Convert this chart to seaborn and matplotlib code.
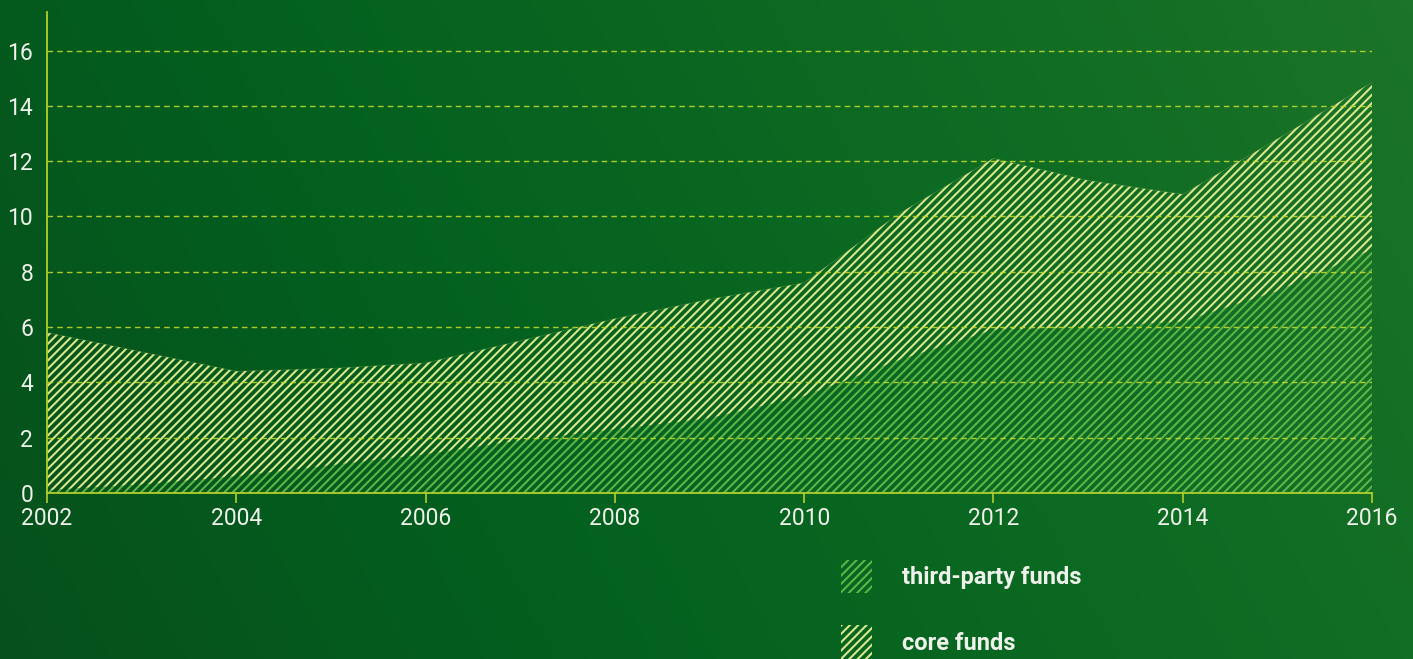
import numpy as np
import pandas as pd
import matplotlib
matplotlib.use("Agg")
import matplotlib.pyplot as plt
from matplotlib.colors import LinearSegmentedColormap
from matplotlib.patches import Patch
import seaborn as sns

years = [2002, 2003, 2004, 2005, 2006, 2007, 2008, 2009, 2010, 2011, 2012, 2013, 2014, 2015, 2016]
third_party = [0.1, 0.3, 0.6, 1.0, 1.4, 1.9, 2.3, 2.7, 3.5, 4.8, 5.9, 6.0, 6.2, 7.3, 8.8]
core = [5.7, 4.8, 3.8, 3.5, 3.3, 3.6, 4.0, 4.3, 4.1, 5.3, 6.2, 5.3, 4.6, 5.5, 6.05]
x_ticks = [2002, 2004, 2006, 2008, 2010, 2012, 2014, 2016]
y_ticks = [0, 2, 4, 6, 8, 10, 12, 14, 16]
series_labels = ["third-party funds", "core funds"]

df = pd.DataFrame({"year": years, "third": third_party, "core": core})
df["total"] = df["third"] + df["core"]

sns.set_style("white")
plt.rcParams["font.family"] = ["Roboto", "DejaVu Sans"]
plt.rcParams["hatch.linewidth"] = 1.5

AXIS_COL = "#b4cf2c"
GRID_COL = "#c3d82a"
CORE_HATCH = "#d9e68a"
THIRD_HATCH = "#5db547"
TEXT_COL = "#eef2ea"
HATCH = "////"

fig = plt.figure(figsize=(14.13, 6.59), dpi=100)

# gradient background
bg = fig.add_axes([0, 0, 1, 1], zorder=-10)
bg.axis("off")
cmap = LinearSegmentedColormap.from_list("bg", ["#07501c", "#03601f", "#0c6a22", "#1b7428"])
gx, gy = np.meshgrid(np.linspace(0, 1, 300), np.linspace(0, 1, 150))
grad = 0.8 * gx + 0.2 * gy
bg.imshow(grad, cmap=cmap, aspect="auto", extent=[0, 1, 0, 1], origin="lower")
bg.set_xlim(0, 1)
bg.set_ylim(0, 1)

ax = fig.add_axes([0.0333, 0.252, 0.9377, 0.730])
ax.patch.set_alpha(0)

ax.fill_between(df["year"], 0, df["third"], facecolor="none", edgecolor=THIRD_HATCH,
                hatch=HATCH, linewidth=0, zorder=2)
ax.fill_between(df["year"], df["third"], df["total"], facecolor="none", edgecolor=CORE_HATCH,
                hatch=HATCH, linewidth=0, zorder=2)
sns.lineplot(data=df, x="year", y="total", ax=ax, color=CORE_HATCH, linewidth=0.6,
             alpha=0.2, zorder=3)

for v in y_ticks[1:]:
    ax.axhline(v, color=GRID_COL, linewidth=1.0, linestyle=(0, (4, 3)), zorder=4, alpha=0.9)

ax.set_xlim(2002, 2016)
ax.set_ylim(0, 17.4)
ax.set_xticks(x_ticks)
ax.set_yticks(y_ticks)
ax.set_xlabel("")
ax.set_ylabel("")

for s in ["top", "right"]:
    ax.spines[s].set_visible(False)
for s in ["left", "bottom"]:
    ax.spines[s].set_color(AXIS_COL)
    ax.spines[s].set_linewidth(1.3)
    ax.spines[s].set_zorder(5)

ax.tick_params(axis="x", direction="out", length=7, width=1.2, color=AXIS_COL,
               labelcolor=TEXT_COL, labelsize=16.5, pad=3, bottom=True)
ax.tick_params(axis="y", length=0, labelcolor=TEXT_COL, labelsize=16.5, pad=10, left=False)
for lab in ax.get_xticklabels() + ax.get_yticklabels():
    lab.set_family(["Roboto", "DejaVu Sans"])
    lab.set_fontweight("normal")

handles = [
    Patch(facecolor="none", edgecolor=THIRD_HATCH, hatch=HATCH, linewidth=0, label=series_labels[0]),
    Patch(facecolor="none", edgecolor=CORE_HATCH, hatch=HATCH, linewidth=0, label=series_labels[1]),
]
leg = fig.legend(handles=handles, loc="upper left", bbox_to_anchor=(841 / 1413, 1 - 560 / 659),
                 frameon=False, borderpad=0, borderaxespad=0, handlelength=1.32, handleheight=1.8,
                 handletextpad=1.25, labelspacing=1.35,
                 prop={"family": ["Roboto", "DejaVu Sans"], "weight": "bold", "size": 17})
for t in leg.get_texts():
    t.set_color(TEXT_COL)

fig.savefig("out.png", dpi=100)
